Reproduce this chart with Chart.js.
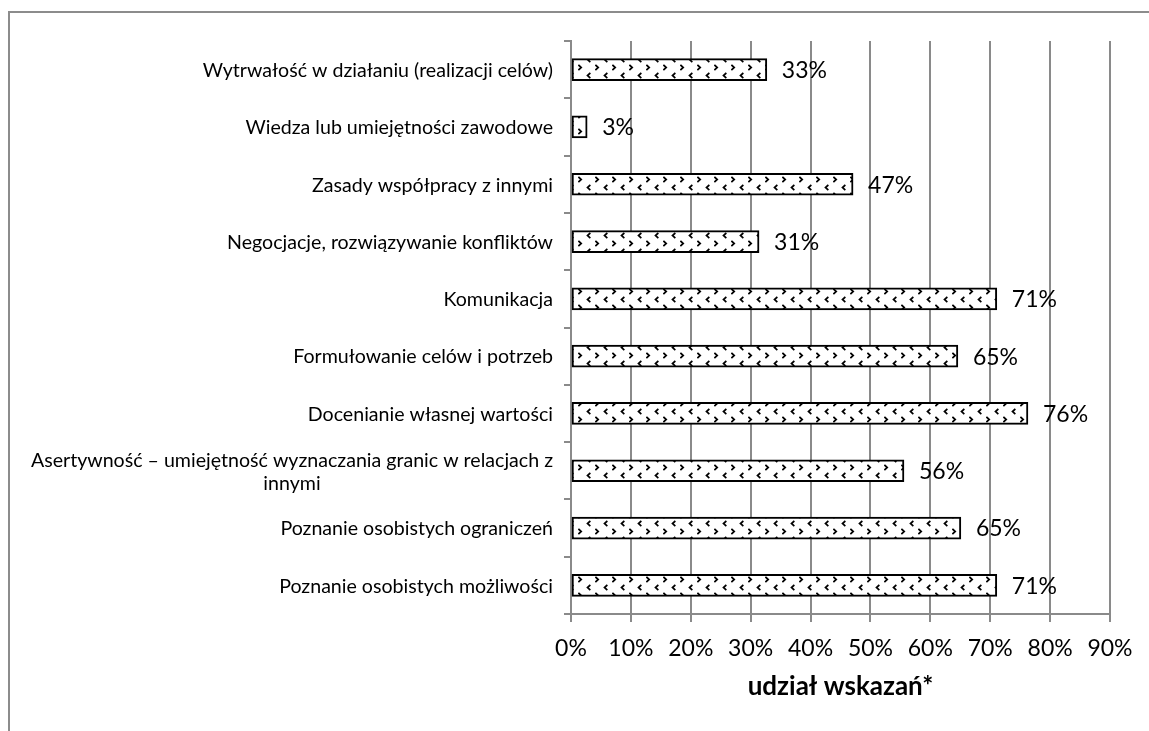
<!DOCTYPE html>
<html><head><meta charset="utf-8">
<script src="https://cdn.jsdelivr.net/npm/chart.js@4"></script>
<style>
html,body{margin:0;padding:0;background:#fff;overflow:hidden}
#wrap{position:relative;width:1149px;height:731px}
#frame{position:absolute;left:8px;top:11px;width:1300px;height:900px;border:2px solid #8c8c8c;box-sizing:border-box;pointer-events:none}
canvas{position:absolute;left:0;top:0}
</style></head><body>
<div id="wrap"><canvas id="c" width="1149" height="731"></canvas><div id="frame"></div></div>
<script>
const categories = [
  "Wytrwałość w działaniu (realizacji celów)",
  "Wiedza lub umiejętności zawodowe",
  "Zasady współpracy z innymi",
  "Negocjacje, rozwiązywanie konfliktów",
  "Komunikacja",
  "Formułowanie celów i potrzeb",
  "Docenianie własnej wartości",
  ["Asertywność – umiejętność wyznaczania granic w relacjach z", "innymi"],
  "Poznanie osobistych ograniczeń",
  "Poznanie osobistych możliwości"
];
const values = [32.7, 2.7, 47.1, 31.4, 71.1, 64.6, 76.3, 55.6, 65.1, 71.1];
const valueLabels = ["33%", "3%", "47%", "31%", "71%", "65%", "76%", "56%", "65%", "71%"];
const xTickMax = 90;
const xTickStep = 10;
const axisTitle = "udział wskazań*";

const canvas = document.getElementById('c');
const ctx = canvas.getContext('2d');

function makePattern(){
  const c = document.createElement('canvas'); c.width = 17; c.height = 16;
  const g = c.getContext('2d');
  g.fillStyle = '#fff'; g.fillRect(0,0,17,16);
  g.strokeStyle = '#000';
  g.lineWidth = 1.7;
  g.lineCap = 'square';
  // '>' chevron
  g.beginPath(); g.moveTo(1,1.5); g.lineTo(3.2,3.5); g.lineTo(1,5.5); g.stroke();
  // '<' chevron
  g.beginPath(); g.moveTo(11.7,9.5); g.lineTo(9.5,11.5); g.lineTo(11.7,13.5); g.stroke();
  return ctx.createPattern(c, 'repeat');
}

const gridColor = '#8a8a8a';

const labelPlugin = {
  id: 'labels',
  afterDraw(chart){
    const c = chart.ctx, ys = chart.scales.y;
    c.save();
    c.fillStyle = '#000';
    c.textBaseline = 'middle';
    c.font = '19.6px Lato';
    categories.forEach((lab, i) => {
      const lines = Array.isArray(lab) ? lab : [lab];
      const py = ys.getPixelForValue(i);
      const lh = 23;
      const w = Math.max(...lines.map(l => c.measureText(l).width));
      const right = ys.right - 18;
      c.textAlign = 'center';
      lines.forEach((l, j) => c.fillText(l, right - w / 2, py + 1 + (j - (lines.length - 1) / 2) * lh));
    });
    c.font = '23px Lato';
    c.textAlign = 'left';
    const meta = chart.getDatasetMeta(0);
    meta.data.forEach((bar, i) => {
      c.fillText(valueLabels[i], bar.x + 15, bar.y + 1);
    });
    c.restore();
  }
};

new Chart(canvas, {
  type: 'bar',
  data: {
    labels: categories,
    datasets: [{
      data: values,
      backgroundColor: makePattern(),
      borderColor: '#000',
      borderWidth: 2,
      borderSkipped: false,
      barThickness: 22
    }]
  },
  options: {
    indexAxis: 'y',
    responsive: false,
    animation: false,
    layout: { padding: { top: 41, right: 39, left: 0, bottom: 0 } },
    plugins: { legend: { display: false }, tooltip: { enabled: false } },
    scales: {
      x: {
        min: 0, max: xTickMax,
        ticks: {
          stepSize: xTickStep,
          callback: v => v + '%',
          font: { family: 'Lato', size: 23 },
          color: '#000',
          padding: 13,
          maxRotation: 0
        },
        grid: { color: gridColor, lineWidth: 2, tickLength: 8 },
        border: { color: gridColor, width: 2 },
        title: {
          display: true, text: axisTitle, color: '#000',
          font: { family: 'Lato', size: 26, weight: 'bold' },
          padding: { top: 0, bottom: 29 }
        },
        afterFit(s){ s.height = 117; }
      },
      y: {
        ticks: { display: false },
        grid: { drawOnChartArea: false, color: gridColor, lineWidth: 2, tickLength: 7, offset: true },
        border: { color: gridColor, width: 2 },
        afterFit(s){ s.width = 571; }
      }
    }
  },
  plugins: [labelPlugin]
});
</script>
</body></html>
